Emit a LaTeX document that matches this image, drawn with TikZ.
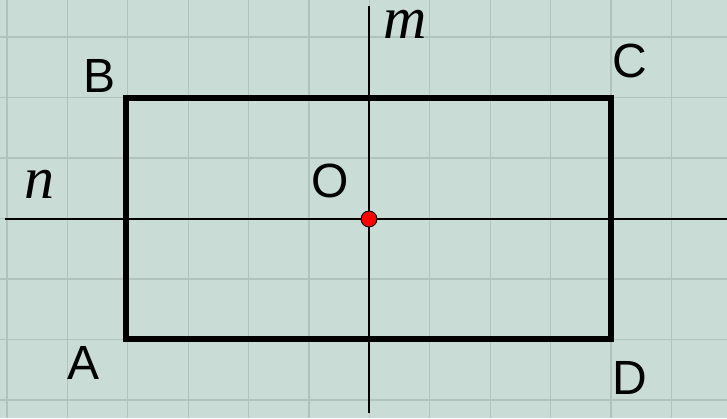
\documentclass[tikz,border=0pt]{standalone}
\usepackage{fontspec}
\setmainfont{Liberation Sans}
\newfontfamily\timesfont{Liberation Serif}
\definecolor{bgc}{RGB}{201,220,214}
\definecolor{gridc}{RGB}{178,194,188}
\tikzset{
  lbl/.style={anchor=base, inner sep=0pt, font=\fontsize{48}{48}\selectfont},
  var/.style={anchor=base, inner sep=0pt, font=\timesfont\itshape\fontsize{60}{60}\selectfont},
  axis/.style={line width=1.8pt, black},
  box/.style={line width=5.5pt, black, line join=miter},
}
\begin{document}
\begin{tikzpicture}[x=1pt,y=-1pt]
\useasboundingbox (0,0) rectangle (727,418);
\fill[bgc] (0,0) rectangle (727,418);
% grid
\foreach \i in {0,...,11} {
  \draw[gridc, line width=1.2pt] ({7+60.4*\i},0) -- ({7+60.4*\i},418);
}
\foreach \j in {0,...,6} {
  \draw[gridc, line width=1.2pt] (0,{37+60.5*\j}) -- (727,{37+60.5*\j});
}
% axes
\coordinate (nL) at (5,219);
\coordinate (nR) at (727,219);
\coordinate (mT) at (369,6);
\coordinate (mB) at (369,413);
\draw[axis] (nL) -- (nR);
\draw[axis] (mT) -- (mB);
% rectangle
\coordinate (A) at (126,339);
\coordinate (B) at (126,98);
\coordinate (C) at (611,98);
\coordinate (D) at (611,339);
\draw[box] (A) -- (B) -- (C) -- (D) -- cycle;
% centre point
\node[circle, fill=red, draw=black, line width=0.9pt, minimum size=16pt, inner sep=0pt] (O) at (369,219) {};
% labels
\node[lbl] (lB) at (100,92) {B};
\node[lbl] (lC) at (630,77) {C};
\node[lbl] (lA) at (84,379) {A};
\node[lbl] (lD) at (630,394) {D};
\node[lbl] (lO) at (330,197) {O};
\node[var] (ln) at (39,198) {n};
\node[var] (lm) at (405,38) {m};
\end{tikzpicture}
\end{document}
